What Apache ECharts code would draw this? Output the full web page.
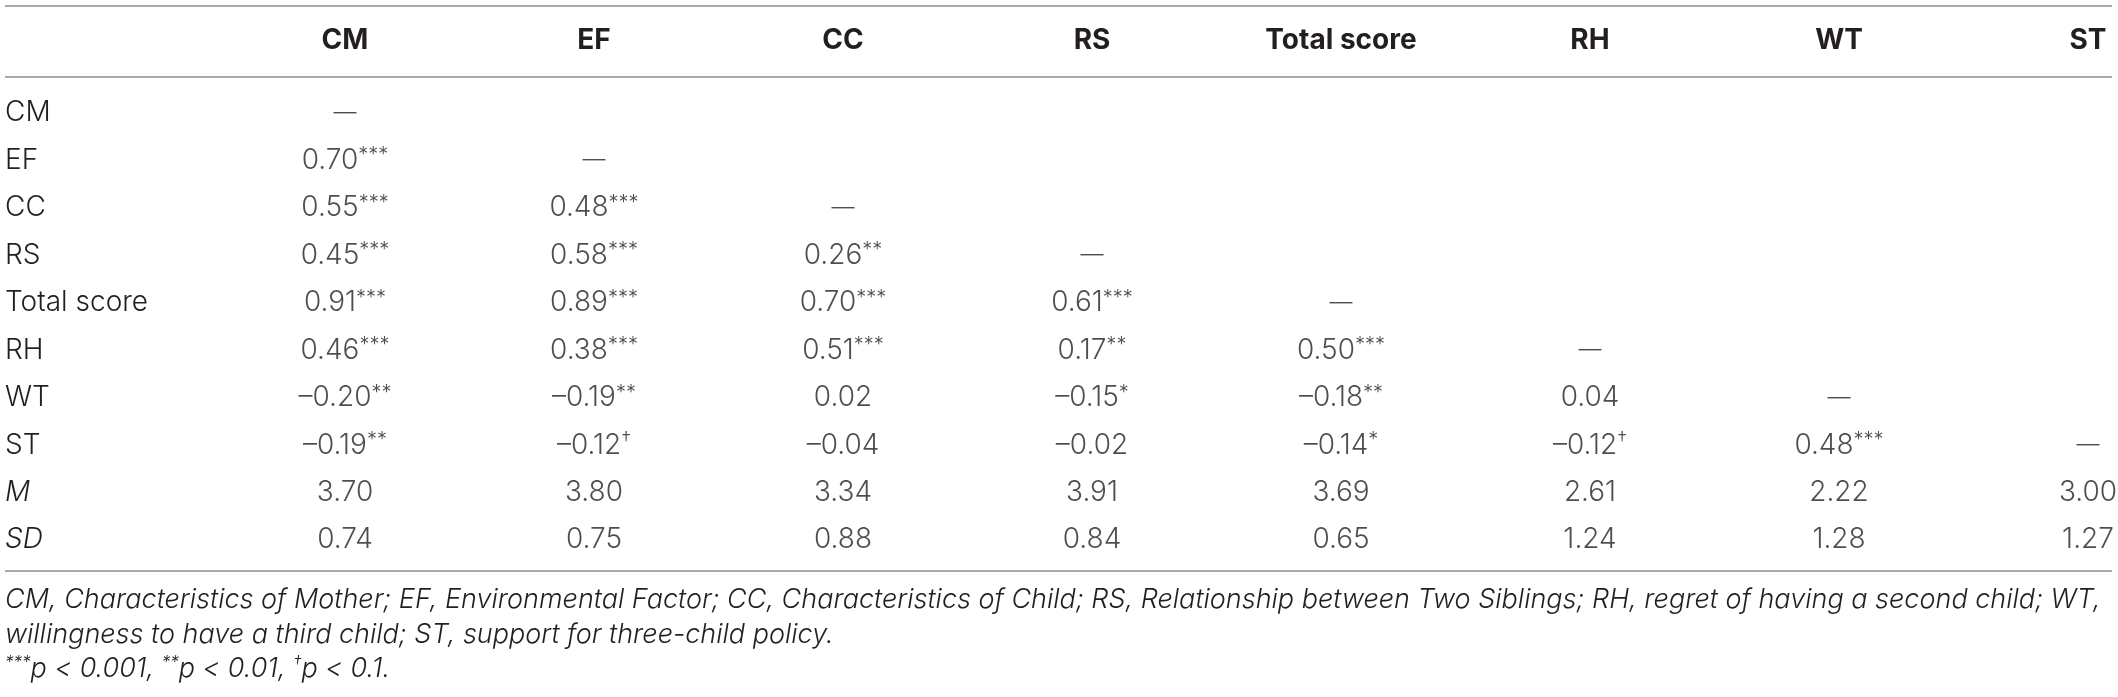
<!DOCTYPE html>
<html>
<head>
<meta charset="utf-8">
<script src="https://cdn.jsdelivr.net/npm/echarts@6/dist/echarts.min.js"></script>
<style>
  html, body { margin: 0; padding: 0; background: #fff; }
  #table { width: 2118px; height: 697px; }
</style>
</head>
<body>
<div id="table"></div>
<script>
// column and row headers
var colNames = ['CM', 'EF', 'CC', 'RS', 'Total score', 'RH', 'WT', 'ST'];
var rowNames = ['CM', 'EF', 'CC', 'RS', 'Total score', 'RH', 'WT', 'ST', 'M', 'SD'];

// lower triangle of correlations (row i, columns 0..i-1)
var corr = [
  [],
  [0.70],
  [0.55, 0.48],
  [0.45, 0.58, 0.26],
  [0.91, 0.89, 0.70, 0.61],
  [0.46, 0.38, 0.51, 0.17, 0.50],
  [-0.20, -0.19, 0.02, -0.15, -0.18, 0.04],
  [-0.19, -0.12, -0.04, -0.02, -0.14, -0.12, 0.48]
];
var sig = [
  [],
  ['***'],
  ['***', '***'],
  ['***', '***', '**'],
  ['***', '***', '***', '***'],
  ['***', '***', '***', '**', '***'],
  ['**', '**', '', '*', '**', ''],
  ['**', '†', '', '', '*', '†', '***']
];
var means = [3.70, 3.80, 3.34, 3.91, 3.69, 2.61, 2.22, 3.00];
var sds = [0.74, 0.75, 0.88, 0.84, 0.65, 1.24, 1.28, 1.27];

var notes = [
  'CM, Characteristics of Mother; EF, Environmental Factor; CC, Characteristics of Child; RS, Relationship between Two Siblings; RH, regret of having a second child; WT,',
  'willingness to have a third child; ST, support for three-child policy.',
  '{s|***}p < 0.001, {s|**}p < 0.01, {s|†}p < 0.1.'
];

var FONT = 'Inter, Roboto, "Liberation Sans", Arial, sans-serif';
var INK = '#231f20';
var RULE = '#a9a9a9';

function fmt(v) {
  var s = Math.abs(v).toFixed(2);
  return v < 0 ? '–' + s : s;
}

var cells = [];
corr.forEach(function (row, i) {
  row.forEach(function (v, j) {
    var star = sig[i][j] ? '{s|' + sig[i][j] + '}' : '';
    cells.push([j, i, '{v|' + fmt(v) + '}' + star]);
  });
  cells.push([i, i, '{d|—}']);
});
means.forEach(function (v, j) { cells.push([j, 8, '{v|' + fmt(v) + '}']); });
sds.forEach(function (v, j) { cells.push([j, 9, '{v|' + fmt(v) + '}']); });

var chart = echarts.init(document.getElementById('table'));
chart.setOption({
  backgroundColor: '#fff',
  animation: false,
  grid: { left: 345, right: 30, top: 113, height: 427 },
  xAxis: {
    type: 'category',
    data: colNames,
    position: 'top',
    boundaryGap: false,
    axisLine: { show: false },
    axisTick: { show: false },
    splitLine: { show: false },
    axisLabel: {
      interval: 0,
      margin: 72,
      verticalAlign: 'middle',
      fontFamily: FONT,
      fontWeight: 'bold',
      fontSize: 28,
      color: INK
    }
  },
  yAxis: {
    type: 'category',
    data: rowNames,
    inverse: true,
    boundaryGap: false,
    axisLine: { show: false },
    axisTick: { show: false },
    splitLine: { show: false },
    axisLabel: {
      interval: 0,
      align: 'left',
      margin: 340,
      fontFamily: FONT,
      fontWeight: 300,
      fontSize: 28,
      color: INK,
      formatter: function (name) {
        return (name === 'M' || name === 'SD') ? '{it|' + name + '}' : name;
      },
      rich: {
        it: { fontFamily: FONT, fontWeight: 300, fontStyle: 'italic', fontSize: 28, color: INK }
      }
    }
  },
  series: [{
    type: 'scatter',
    symbolSize: 0,
    data: cells,
    label: {
      show: true,
      position: 'inside',
      color: INK,
      formatter: function (p) { return p.value[2]; },
      rich: {
        v: { fontFamily: FONT, fontWeight: 300, fontSize: 28, lineHeight: 30, color: INK },
        s: { fontFamily: FONT, fontWeight: 300, fontSize: 20, lineHeight: 30, verticalAlign: 'top', color: INK },
        d: { fontFamily: FONT, fontWeight: 300, fontSize: 23, lineHeight: 30, color: INK }
      }
    }
  }],
  graphic: [
    { type: 'line', shape: { x1: 5, y1: 6, x2: 2112, y2: 6 }, style: { stroke: RULE, lineWidth: 2 } },
    { type: 'line', shape: { x1: 5, y1: 77, x2: 2112, y2: 77 }, style: { stroke: RULE, lineWidth: 2 } },
    { type: 'line', shape: { x1: 5, y1: 571, x2: 2112, y2: 571 }, style: { stroke: RULE, lineWidth: 2 } },
    {
      type: 'text', x: 5, y: 600,
      style: { text: notes[0], align: 'left', verticalAlign: 'middle', fontFamily: FONT, fontWeight: 300, fontStyle: 'italic', fontSize: 27, fill: INK }
    },
    {
      type: 'text', x: 5, y: 635,
      style: { text: notes[1], align: 'left', verticalAlign: 'middle', fontFamily: FONT, fontWeight: 300, fontStyle: 'italic', fontSize: 27, fill: INK }
    },
    {
      type: 'text', x: 5, y: 669,
      style: {
        text: notes[2], align: 'left', verticalAlign: 'middle', fontFamily: FONT, fontWeight: 300, fontStyle: 'italic', fontSize: 27, fill: INK,
        rich: { s: { fontFamily: FONT, fontWeight: 300, fontStyle: 'italic', fontSize: 17, verticalAlign: 'top', lineHeight: 30, fill: INK } }
      }
    }
  ]
});
</script>
</body>
</html>
